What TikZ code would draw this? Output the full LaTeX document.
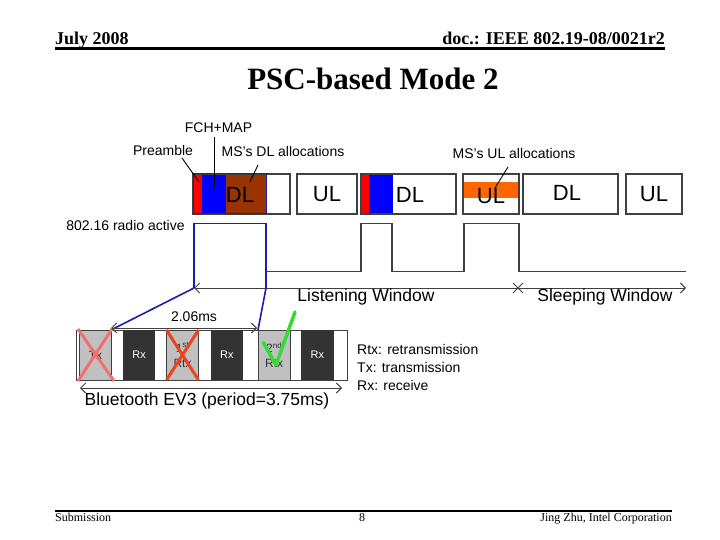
\documentclass[tikz,border=0pt]{standalone}
\usepackage{fontspec}
\setmainfont{Liberation Serif}
\setsansfont{Liberation Sans}
\usetikzlibrary{arrows.meta}
\definecolor{framegray}{HTML}{404040}
\definecolor{dlbrown}{HTML}{993300}
\definecolor{ulorange}{HTML}{FF6600}
\definecolor{zoomblue}{HTML}{1C1CB0}
\definecolor{boxgray}{HTML}{C0C0C0}
\definecolor{boxdark}{HTML}{333333}
\definecolor{xpink}{HTML}{F07070}
\definecolor{xred}{HTML}{E8451E}
\definecolor{okgreen}{HTML}{33DD33}
\begin{document}
\begin{tikzpicture}[x=1pt,y=-1pt,
  frame/.style={draw=framegray, line width=1.2pt, inner sep=0pt, outer sep=0pt, minimum height=40pt},
  big/.style={font=\sffamily\fontsize{22}{24}\selectfont, inner sep=0pt},
  lab/.style={font=\sffamily\fontsize{14}{16}\selectfont, inner sep=0pt},
  win/.style={font=\sffamily\fontsize{17.5}{19}\selectfont, inner sep=0pt},
  bt/.style={minimum width=32pt, minimum height=50pt, inner sep=0pt, outer sep=0pt},
  btgray/.style={bt, fill=boxgray, draw=framegray, line width=0.6pt, text=boxdark, align=center, font=\sffamily\fontsize{12}{15}\selectfont},
  btdark/.style={bt, fill=boxdark, text=white, font=\sffamily\fontsize{11}{12}\selectfont},
  twoway/.style={{Straight Barb[length=5pt,width=10pt]}-{Straight Barb[length=5pt,width=10pt]}},
  pointer/.style={black, line width=0.9pt},
  hdr/.style={font=\bfseries\fontsize{18}{20}\selectfont, inner sep=0pt},
  ftr/.style={font=\fontsize{12}{14}\selectfont, inner sep=0pt}
]
\useasboundingbox (0,0) rectangle (720,540);

% header and footer
\node[hdr, anchor=base west] (hl) at (55,45) {July 2008};
\node[hdr, anchor=base east] (hr) at (665,45) {doc.: IEEE 802.19-08/0021r2};
\coordinate (hla) at (55,48.5);
\coordinate (hlb) at (665,48.5);
\draw[line width=3pt] (hla) -- (hlb);
\node[font=\bfseries\fontsize{31}{34}\selectfont, inner sep=0pt] (title) at (373,79) {PSC-based Mode 2};
\coordinate (fla) at (55,511);
\coordinate (flb) at (672,511);
\draw[line width=2pt] (fla) -- (flb);
\node[ftr, anchor=base west] (fl) at (55,521) {Submission};
\node[ftr, anchor=base] (fm) at (362,521) {8};
\node[ftr, anchor=base east] (fr) at (672,521) {Jing Zhu, Intel Corporation};

% frame fills
\fill[red] (193,174) rectangle (201.5,214);
\fill[blue] (201.5,174) rectangle (226,214);
\fill[dlbrown] (226,174) rectangle (266,214);
\fill[red] (361,174) rectangle (368.5,214);
\fill[blue] (368.5,174) rectangle (392.5,214);
\fill[ulorange] (464,182) rectangle (519,198);

% frames
\node[frame, minimum width=97pt] (f1) at (241.5,194) {};
\node[frame, minimum width=60pt] (u1) at (327,194) {};
\node[frame, minimum width=95pt] (f2) at (408.5,194) {};
\node[frame, minimum width=56pt] (u2) at (491,194) {};
\node[frame, minimum width=95pt] (d3) at (570.5,194) {};
\node[frame, minimum width=56pt] (u3) at (654,194) {};
\draw[zoomblue, line width=1pt] (193,174) rectangle (266,214);

\node[big] (t1) at (240,195) {DL};
\node[big] (t2) at (327,194) {UL};
\node[big] (t3) at (410,195) {DL};
\node[big] (t4) at (491,196) {UL};
\node[big] (t5) at (567,193) {DL};
\node[big] (t6) at (654,194) {UL};

% labels and pointers
\node[lab] (fch) at (218.5,128) {FCH+MAP};
\node[lab] (pre) at (163,150) {Preamble};
\node[lab] (msdl) at (283,151) {MS's DL allocations};
\node[lab] (msul) at (514,153) {MS's UL allocations};
\node[lab] (radio) at (125.5,225) {802.16 radio active};
\coordinate (pa) at (182,158); \coordinate (pb) at (199,182);
\coordinate (fa) at (214,137); \coordinate (fb) at (214,187);
\coordinate (da) at (258,165); \coordinate (db) at (250,182);
\coordinate (ua) at (508,167); \coordinate (ub) at (495,188);
\draw[pointer] (pa) -- (pb);
\draw[pointer] (fa) -- (fb);
\draw[pointer] (da) -- (db);
\draw[pointer] (ua) -- (ub);

% radio activity waveform
\coordinate (wl) at (194,288);
\coordinate (wr) at (266,288);
\draw[zoomblue, line width=1.6pt] (wl) -- (194,223.5) -- (266,223.5) -- (wr);
\draw[framegray, line width=1.2pt] (266,271.7) -- (361,271.7) -- (361,223.5) -- (392,223.5) -- (392,271.7)
  -- (464,271.7) -- (464,223.5) -- (519,223.5) -- (519,271.7) -- (686,271.7);

% windows axis
\coordinate (ax) at (194,288);
\coordinate (ay) at (686,288);
\draw[framegray, line width=1pt, twoway] (ax) -- (ay);
\draw[framegray, line width=1pt] (513,283) -- (523,293) (513,293) -- (523,283);
\node[win] (lw) at (366,297) {Listening Window};
\node[win] (sw) at (605,297) {Sleeping Window};

% zoom lines
\coordinate (zl) at (111,330);
\coordinate (zr) at (258,330);
\draw[zoomblue, line width=1.6pt] (wl) -- (zl);
\draw[zoomblue, line width=1.6pt] (wr) -- (zr);

% bluetooth strip
\draw[framegray, line width=0.8pt] (76,330) rectangle (347,380);
\node[btgray] (b1) at (95.5,355) {Tx};
\node[btdark] (b2) at (139.2,355) {Rx};
\node[btgray] (b3) at (182.5,355) {1\textsuperscript{st}\\Rtx};
\node[btdark] (b4) at (226.9,355) {Rx};
\node[btgray] (b5) at (274.2,355) {2\textsuperscript{nd}\\Rtx};
\node[btdark, minimum width=33pt] (b6) at (317.4,355) {Rx};

% marks
\draw[xpink, line width=3pt] (78,329) -- (114,381) (112,329) -- (78,381);
\draw[xred, line width=3pt] (166.5,330) -- (198.5,380) (198.5,330) -- (166.5,380);
\draw[okgreen, line width=3.5pt, line cap=round, line join=round] (263.3,342.5) -- (276,365) -- (295,312);

% 2.06 ms arrow
\coordinate (ma) at (111,328);
\coordinate (mb) at (257,328);
\draw[framegray, line width=1pt, twoway] (ma) -- (mb);
\node[lab] (ms) at (194,317) {2.06ms};

% EV3 arrow
\coordinate (ea) at (80,388);
\coordinate (eb) at (342,388);
\draw[framegray, line width=1pt, twoway] (ea) -- (eb);
\node[win] (ev3) at (207,401) {Bluetooth EV3 (period=3.75ms)};

% legend
\node[lab, anchor=west] (lg1) at (357,349) {Rtx: retransmission};
\node[lab, anchor=west] (lg2) at (357,367) {Tx: transmission};
\node[lab, anchor=west] (lg3) at (357,385) {Rx: receive};
\end{tikzpicture}
\end{document}
